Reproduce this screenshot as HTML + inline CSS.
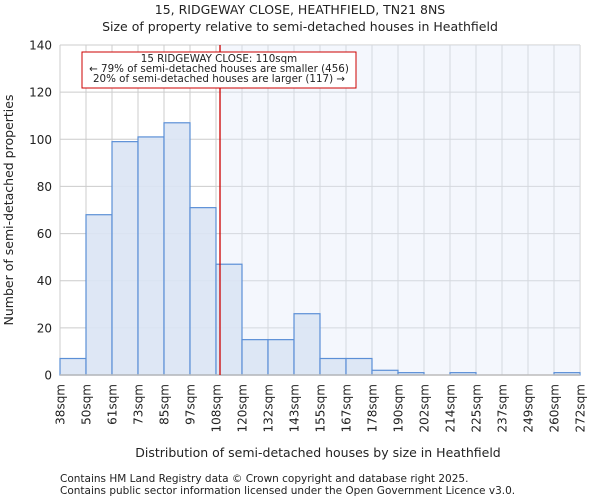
<!DOCTYPE html>
<html><head><meta charset="utf-8"><style>
body{margin:0;background:#fff;font-family:"DejaVu Sans","Liberation Sans",sans-serif;}
svg text{font-family:"DejaVu Sans","Liberation Sans",sans-serif;fill:#222;}
</style></head><body>
<svg id="c" width="600" height="500">
<text x="300" y="14" font-size="12.5" text-anchor="middle">15, RIDGEWAY CLOSE, HEATHFIELD, TN21 8NS</text>
<text x="300" y="31" font-size="12.5" text-anchor="middle">Size of property relative to semi-detached houses in Heathfield</text>
<text x="318" y="457" font-size="12.5" text-anchor="middle">Distribution of semi-detached houses by size in Heathfield</text>
<text transform="translate(13,210) rotate(-90)" font-size="12.5" text-anchor="middle">Number of semi-detached properties</text>
<text x="60" y="482" font-size="10.5" fill="#555">Contains HM Land Registry data © Crown copyright and database right 2025.</text>
<text x="60" y="494" font-size="10.5" fill="#555">Contains public sector information licensed under the Open Government Licence v3.0.</text>
</svg>
<script>
const binLabels=["38sqm","50sqm","61sqm","73sqm","85sqm","97sqm","108sqm","120sqm","132sqm","143sqm","155sqm","167sqm","178sqm","190sqm","202sqm","214sqm","225sqm","237sqm","249sqm","260sqm","272sqm"];
const counts=[7,68,99,101,107,71,47,15,15,26,7,7,2,1,0,1,0,0,0,1];
const yTicks=[0,20,40,60,80,100,120,140];
const subjectSize=110;
const xMinVal=38, xMaxVal=272;
const L=60,R=580,T=45,B=375,yMax=140;
const svg=document.getElementById('c');
const NS='http://www.w3.org/2000/svg';
function mk(t,a,p){const e=document.createElementNS(NS,t);for(const k in a)e.setAttribute(k,a[k]);(p||svg).appendChild(e);return e;}
const bw=(R-L)/counts.length;
const xi=i=>L+i*bw;
const xv=v=>L+(v-xMinVal)/(xMaxVal-xMinVal)*(R-L);
const y=v=>B-v/yMax*(B-T);
const sx=xv(subjectSize);
yTicks.forEach(t=>{const g=mk('line',{x1:L,x2:R,y1:y(t),y2:y(t),stroke:'#cccccc','stroke-width':1});


const tx=mk('text',{x:L-8,y:y(t)+4.5,'font-size':12,'text-anchor':'end'});tx.textContent=t;

});
binLabels.forEach((l,i)=>{const g=mk('line',{x1:xi(i),x2:xi(i),y1:T,y2:B,stroke:'#cccccc','stroke-width':1});


const tx=mk('text',{transform:`translate(${xi(i)+4.5},${B+9}) rotate(-90)`,'font-size':12,'text-anchor':'end'});tx.textContent=l;

});
const shade=mk('rect',{x:sx,y:T,width:R-sx,height:B-T,fill:'#e3ebfa','fill-opacity':0.4});


counts.forEach((c,i)=>{if(c<=0)return;const b=mk('rect',{x:xi(i),y:y(c),width:bw,height:B-y(c),fill:'#dae4f4','fill-opacity':0.9,stroke:'#5b8fd6','stroke-width':1.2});

});
const ax=mk('line',{x1:L,x2:R,y1:B,y2:B,stroke:'#bbbbbb','stroke-width':1.5});


const rl=mk('line',{x1:sx,x2:sx,y1:T,y2:B,stroke:'#cc0000','stroke-width':1.3});


const box=mk('rect',{x:82,y:52,width:274,height:36,fill:'#fff',stroke:'#cc0000','stroke-width':1});


["15 RIDGEWAY CLOSE: 110sqm","← 79% of semi-detached houses are smaller (456)","20% of semi-detached houses are larger (117) →"].forEach((s,i)=>{const t=mk('text',{x:219,y:62+i*10,'font-size':10.3,'text-anchor':'middle'});t.textContent=s;

});
</script>
</body></html>
